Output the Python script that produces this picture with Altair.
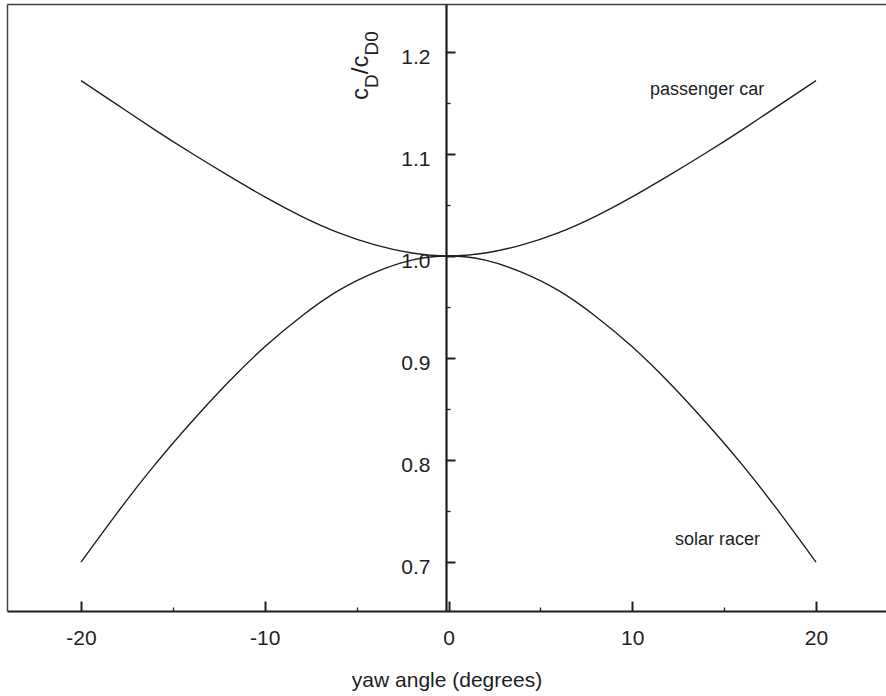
import altair as alt
import pandas as pd

# Drag ratio c_D / c_D0 against yaw angle for two vehicle types
angle = [-20, -18, -16, -14, -12, -10, -8, -6, -4, -2, 0,
         2, 4, 6, 8, 10, 12, 14, 16, 18, 20]
passenger_car = [1.172, 1.148, 1.124, 1.101, 1.079, 1.058, 1.039, 1.023, 1.011, 1.003, 1.000,
                 1.003, 1.011, 1.023, 1.039, 1.058, 1.079, 1.101, 1.124, 1.148, 1.172]
solar_racer = [0.700, 0.749, 0.795, 0.837, 0.876, 0.911, 0.941, 0.966, 0.984, 0.996, 1.000,
               0.996, 0.984, 0.966, 0.941, 0.911, 0.876, 0.837, 0.795, 0.749, 0.700]

x_major = [-20, -10, 0, 10, 20]
x_minor = [-15, -5, 5, 15]
y_major = [0.7, 0.8, 0.9, 1.0, 1.1, 1.2]
y_minor = [0.75, 0.85, 0.95, 1.05, 1.15]

series_names = ["passenger car", "solar racer"]
label_angle = [10.97, 12.33]
label_ratio = [1.1578, 0.7167]

x_title = "yaw angle (degrees)"
# y title pieces: text, font size, shift along the text, subscript drop
y_title_pieces = [("c", 24, 0, 0), ("D", 19, 12.0, 10), ("/", 24, 25.7, 0),
                  ("c", 24, 32.4, 0), ("D0", 19, 44.4, 10)]
y_title_anchor = (-4.40, 1.1530)

FONT = "Liberation Sans"
INK = "#1e1e1e"
W, H = 879, 607
X_DOMAIN = [-24.03, 23.81]
Y_DOMAIN = [0.652, 1.2471]
Y_AXIS_AT = 439  # pixel position of the x = 0 vertical axis inside the plot

curves = pd.DataFrame({
    "angle": angle * 2,
    "ratio": passenger_car + solar_racer,
    "vehicle": [series_names[0]] * len(angle) + [series_names[1]] * len(angle),
})
labels = pd.DataFrame({"angle": label_angle, "ratio": label_ratio, "text": series_names})

xs = alt.Scale(domain=X_DOMAIN, nice=False, zero=False)
ys = alt.Scale(domain=Y_DOMAIN, nice=False, zero=False)

common_axis = dict(grid=False, labelFont=FONT, titleFont=FONT, labelColor=INK,
                   titleColor=INK, domainColor=INK, tickColor=INK)

lines = alt.Chart(curves).mark_line(color=INK, strokeWidth=1.4, interpolate="natural").encode(
    x=alt.X("angle:Q", scale=xs, axis=alt.Axis(
        orient="top", offset=-H, values=x_major, tickSize=10, tickWidth=2,
        domainWidth=2.2, labelPadding=-37, labelBaseline="middle", labelFontSize=21,
        labelExpr="'' + datum.value", labelFlush=False,
        title=x_title, titleY=69, titleBaseline="middle", titleFontSize=21,
        titleFontWeight="normal", **common_axis)),
    y=alt.Y("ratio:Q", scale=ys, axis=alt.Axis(
        orient="right", offset=-(W - Y_AXIS_AT), values=y_major, tickSize=9, tickWidth=2,
        domainWidth=2.2, labelPadding=-25, labelAlign="right", labelOffset=5,
        labelFontSize=21, format=".1f", labelFlush=False, title=None, **common_axis)),
    detail="vehicle:N",
)

minor = alt.Chart(curves).mark_point(opacity=0).encode(
    x=alt.X("angle:Q", scale=xs, axis=alt.Axis(
        orient="top", offset=-H, values=x_minor, tickSize=4, tickWidth=1.3,
        domain=False, labels=False, title=None, **common_axis)),
    y=alt.Y("ratio:Q", scale=ys, axis=alt.Axis(
        orient="right", offset=-(W - Y_AXIS_AT), values=y_minor, tickSize=4, tickWidth=1.3,
        domain=False, labels=False, title=None, **common_axis)),
)

frame = alt.Chart(curves).mark_point(opacity=0).encode(
    x=alt.X("angle:Q", scale=xs, axis=alt.Axis(
        orient="top", ticks=False, labels=False, title=None, domainWidth=1.5,
        grid=False, domainColor="#444444")),
    y=alt.Y("ratio:Q", scale=ys, axis=alt.Axis(
        orient="left", ticks=False, labels=False, title=None, domainWidth=1.5,
        grid=False, domainColor="#444444")),
)

series_text = alt.Chart(labels).mark_text(
    align="left", baseline="alphabetic", font=FONT, fontSize=18, color=INK
).encode(
    x=alt.X("angle:Q", scale=xs, axis=None),
    y=alt.Y("ratio:Q", scale=ys, axis=None),
    text="text:N",
)

title_df = pd.DataFrame({"angle": [y_title_anchor[0]], "ratio": [y_title_anchor[1]]})
title_layers = []
for txt, size, shift, drop in y_title_pieces:
    title_layers.append(
        alt.Chart(title_df).mark_text(
            text=txt, angle=270, align="left", baseline="alphabetic",
            font=FONT, fontSize=size, color=INK, dx=shift, dy=drop,
        ).encode(
            x=alt.X("angle:Q", scale=xs, axis=None),
            y=alt.Y("ratio:Q", scale=ys, axis=None),
        )
    )

chart = alt.layer(lines, minor, frame, series_text, *title_layers).resolve_axis(
    x="independent", y="independent"
).properties(
    width=W, height=H,
    autosize=alt.AutoSizeParams(type="none"),
    padding={"left": 7, "top": 4, "right": 0, "bottom": 85},
).configure_view(stroke=None).configure(background="white")

chart.save("out.html", embed_options={"renderer": "svg", "actions": False})
